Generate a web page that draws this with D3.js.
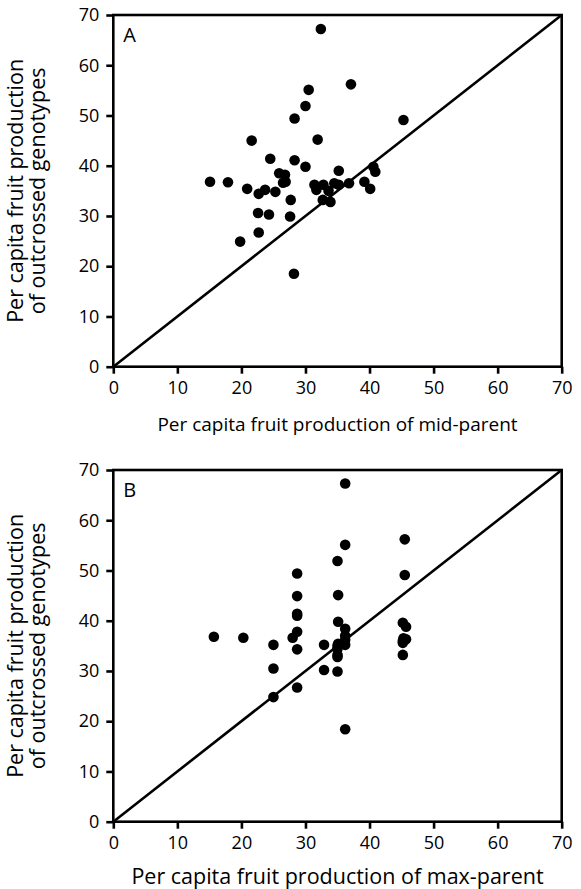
<!DOCTYPE html>
<html>
  <head>
    <title>Outcrossed vs parent fruit production</title>
    <script src="https://d3js.org/d3.v7.min.js"></script>
    <style>
      body { margin: 0; background: #fff; }
      text { font-family: 'Open Sans', sans-serif; fill: #000; }
    </style>
  </head>
  <body>
    <svg width="581" height="889" id="mainsvg"></svg>
    <script>
        const ticks = [0, 10, 20, 30, 40, 50, 60, 70];
        const yTitle = ['Per capita fruit production', 'of outcrossed genotypes'];

        // panel A: mid-parent
        const midParent = [32.4, 37.1, 30.5, 30.0, 28.3, 45.3, 21.6, 31.9, 24.5, 28.3, 30.0, 35.2, 40.6, 40.9,
          25.9, 26.8, 26.5, 26.9, 15.1, 17.9, 20.9, 23.7, 22.7, 25.3, 27.7, 31.4, 31.7, 32.8, 33.6, 34.5,
          35.2, 36.8, 32.7, 33.9, 39.2, 40.1, 22.6, 24.3, 27.6, 22.7, 19.8, 28.2];
        const outcrossedA = [67.2, 56.2, 55.1, 51.9, 49.4, 49.1, 45.0, 45.2, 41.4, 41.1, 39.8, 39.0, 39.8, 38.8,
          38.5, 38.2, 36.6, 36.8, 36.8, 36.7, 35.4, 35.2, 34.4, 34.8, 33.2, 36.2, 35.2, 36.2, 35.0, 36.5,
          36.2, 36.5, 33.2, 32.8, 36.8, 35.4, 30.6, 30.3, 29.9, 26.7, 24.9, 18.5];

        // panel B: max-parent
        const maxParent = [36.2, 36.2, 35.0, 45.5, 28.7, 45.5, 28.7, 35.1, 28.7, 28.7, 35.1, 36.2, 28.7, 45.2,
          45.7, 15.7, 20.3, 28.0, 36.2, 25.0, 28.7, 32.9, 35.1, 36.2, 35.0, 35.0, 35.0, 45.3, 45.7, 45.2,
          45.2, 25.0, 32.9, 35.0, 28.7, 25.0, 36.2, 45.2, 35.0, 36.2];
        const outcrossedB = [67.3, 55.1, 51.9, 56.2, 49.4, 49.1, 44.9, 45.1, 41.4, 41.0, 39.8, 38.4, 37.8, 39.6,
          38.8, 36.8, 36.6, 36.6, 37.0, 35.2, 34.3, 35.2, 35.4, 35.2, 34.4, 33.2, 32.8, 36.5, 36.3, 35.6,
          33.2, 30.5, 30.2, 29.9, 26.7, 24.8, 18.4, 36.0, 35.0, 36.2];

        const svg = d3.select('#mainsvg');

        function drawPanel(opts) {
          const {top, bottom, xs, ys, letter, xLabel, xLabelSize, xLabelDy} = opts;
          const left = 113.3, right = 561.7;

          const xScale = d3.scaleLinear().domain([0, 70]).range([left, right]);
          const yScale = d3.scaleLinear().domain([0, 70]).range([bottom, top]);

          const g = svg.append('g');

          // frame
          g.append('rect')
            .attr('x', left).attr('y', top)
            .attr('width', right - left).attr('height', bottom - top)
            .attr('fill', 'none').attr('stroke', '#000').attr('stroke-width', 2.6);

          const xAxis = d3.axisBottom(xScale).tickValues(ticks).tickSize(7).tickPadding(8);
          const yAxis = d3.axisLeft(yScale).tickValues(ticks).tickSize(7).tickPadding(7);

          const gx = g.append('g').attr('transform', `translate(0, ${bottom})`).call(xAxis);
          const gy = g.append('g').attr('transform', `translate(${left}, 0)`).call(yAxis);
          [gx, gy].forEach(a => {
            a.select('.domain').remove();
            a.selectAll('.tick line').attr('stroke', '#000').attr('stroke-width', 2.6);
            a.selectAll('.tick text').attr('font-size', '18px')
              .attr('font-family', "'Open Sans', sans-serif").attr('fill', '#000');
          });

          // 1:1 line
          g.append('line')
            .attr('x1', xScale(0)).attr('y1', yScale(0))
            .attr('x2', xScale(70)).attr('y2', yScale(70))
            .attr('stroke', '#000').attr('stroke-width', 2.6);

          g.selectAll('.dot').data(xs).join('circle')
            .attr('class', 'dot')
            .attr('cx', d => xScale(d))
            .attr('cy', (d, i) => yScale(ys[i]))
            .attr('r', 5.3)
            .attr('fill', '#000');

          g.append('text').text(letter)
            .attr('x', left + 10).attr('y', top + 27)
            .attr('font-size', '20px');

          g.append('text').text(xLabel)
            .attr('x', (left + right) / 2).attr('y', bottom + xLabelDy)
            .attr('text-anchor', 'middle')
            .attr('font-size', xLabelSize);

          const cy = (top + bottom) / 2;
          g.append('text')
            .attr('transform', `translate(23, ${cy}) rotate(-90)`)
            .attr('text-anchor', 'middle').attr('font-size', '21.5px')
            .text(yTitle[0]);
          g.append('text')
            .attr('transform', `translate(45, ${cy}) rotate(-90)`)
            .attr('text-anchor', 'middle').attr('font-size', '21.5px')
            .text(yTitle[1]);
        }

        drawPanel({top: 15, bottom: 366.7, xs: midParent, ys: outcrossedA, letter: 'A',
          xLabel: 'Per capita fruit production of mid-parent', xLabelSize: '19px', xLabelDy: 64});
        drawPanel({top: 470, bottom: 821.7, xs: maxParent, ys: outcrossedB, letter: 'B',
          xLabel: 'Per capita fruit production of max-parent', xLabelSize: '21.5px', xLabelDy: 62});
    </script>
  </body>
</html>
